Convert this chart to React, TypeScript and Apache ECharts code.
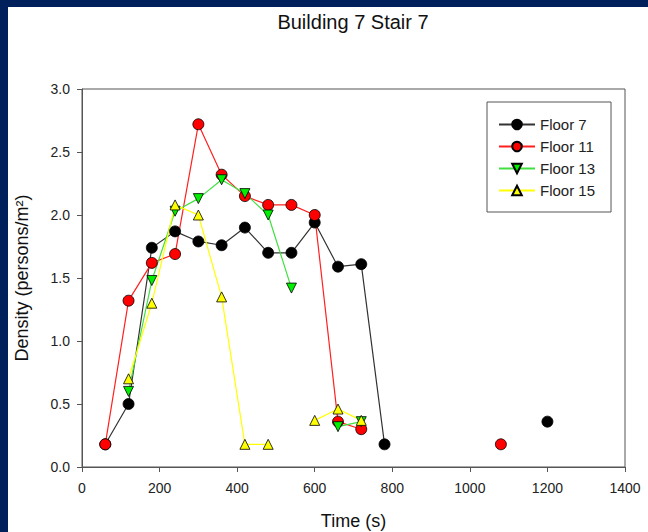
import React, { useEffect, useRef } from "react";
import * as echarts from "echarts";

const titleText = "Building 7 Stair 7";
const xAxisName = "Time (s)";
const yAxisName = "Density (persons/m²)";

const times = [60, 120, 180, 240, 300, 360, 420, 480, 540, 600, 660, 720, 780, 1080, 1200];
const floor7 = [0.18, 0.5, 1.74, 1.87, 1.79, 1.76, 1.9, 1.7, 1.7, 1.94, 1.59, 1.61, 0.18, null, 0.36];
const floor11 = [0.18, 1.32, 1.62, 1.69, 2.72, 2.32, 2.15, 2.08, 2.08, 2.0, 0.36, 0.3, null, 0.18, null];
const floor13 = [null, 0.6, 1.48, 2.03, 2.13, 2.28, 2.17, 2.0, 1.42, null, 0.32, 0.36, null, null, null];
const floor15 = [null, 0.7, 1.3, 2.08, 2.0, 1.35, 0.18, 0.18, null, 0.37, 0.46, 0.37, null, null, null];

const seriesNames = ["Floor 7", "Floor 11", "Floor 13", "Floor 15"];
const seriesValues = [floor7, floor11, floor13, floor15];
const fillColors = ["#000000", "#ff0000", "#00ee00", "#ffff00"];
const lineColors = ["#333333", "#ff2020", "#40e040", "#ffff00"];
const symbols = ["circle", "circle", "triangle", "triangle"];
const symbolRotates = [0, 0, 180, 0];
const symbolSizes = [11, 11, 10, 10];

const FONT = "'Liberation Sans', Arial, sans-serif";

export default function App() {
  const ref = useRef<HTMLDivElement>(null);
  useEffect(() => {
    if (!ref.current) return;
    const chart = echarts.init(ref.current, undefined, { renderer: "svg" });
    const series = seriesNames.map((name, i) => ({
      name,
      type: "line",
      data: times.map((t, j) => [t, seriesValues[i][j] === null ? "-" : seriesValues[i][j]]),
      connectNulls: false,
      symbol: symbols[i],
      symbolRotate: symbolRotates[i],
      symbolSize: symbolSizes[i],
      showSymbol: true,
      showAllSymbol: true,
      lineStyle: { color: lineColors[i], width: 1.2 },
      itemStyle: { color: fillColors[i], borderColor: "#000", borderWidth: 0.8 },
      emphasis: { disabled: true },
    }));
    chart.setOption({
      animation: false,
      backgroundColor: "#ffffff",
      textStyle: { fontFamily: FONT },
      graphic: [
        {
          type: "text",
          x: 345,
          y: 15,
          style: {
            text: titleText,
            fontSize: 20,
            fontFamily: FONT,
            fill: "#111",
            textAlign: "center",
            textVerticalAlign: "middle",
          },
        },
      ],
      legend: {
        data: seriesNames,
        orient: "vertical",
        left: 479,
        top: 95,
        itemWidth: 36,
        itemHeight: 12,
        itemGap: 7,
        padding: [15, 16, 14, 11],
        borderColor: "#555",
        borderWidth: 1,
        backgroundColor: "#fff",
        textStyle: { fontSize: 15, color: "#222", fontFamily: FONT },
        selectedMode: false,
      },
      grid: {
        left: 74,
        top: 82,
        right: 23,
        bottom: 65,
        show: true,
        borderColor: "#555",
        borderWidth: 1,
        backgroundColor: "#fff",
        containLabel: false,
        outerBoundsMode: "none",
      },
      xAxis: {
        type: "value",
        min: 0,
        max: 1400,
        interval: 200,
        name: xAxisName,
        nameLocation: "middle",
        nameGap: 45,
        nameTextStyle: { fontSize: 18, color: "#111", fontFamily: FONT },
        axisLine: { show: true, onZero: false, lineStyle: { color: "#555", width: 1 } },
        axisTick: { show: true, inside: false, length: 5, lineStyle: { color: "#555" } },
        axisLabel: {
          fontSize: 14,
          color: "#222",
          margin: 14,
          fontFamily: FONT,
          formatter: (v: number) => String(v),
        },
        splitLine: { show: false },
      },
      yAxis: {
        type: "value",
        min: 0,
        max: 3,
        interval: 0.5,
        name: yAxisName,
        nameLocation: "middle",
        nameGap: 51,
        nameTextStyle: { fontSize: 18, color: "#111", fontFamily: FONT },
        axisLine: { show: true, onZero: false, lineStyle: { color: "#555", width: 1 } },
        axisTick: { show: true, inside: false, length: 5, lineStyle: { color: "#555" } },
        axisLabel: {
          fontSize: 14,
          color: "#222",
          margin: 12,
          fontFamily: FONT,
          formatter: (v: number) => v.toFixed(1),
        },
        splitLine: { show: false },
      },
      series,
    });
    return () => chart.dispose();
  }, []);

  return (
    <div
      style={{
        position: "fixed",
        left: 0,
        top: 0,
        width: 648,
        height: 532,
        background: "#00205b",
      }}
    >
      <div
        ref={ref}
        style={{ position: "absolute", left: 8, top: 7, width: 640, height: 525, background: "#fff" }}
      />
    </div>
  );
}
